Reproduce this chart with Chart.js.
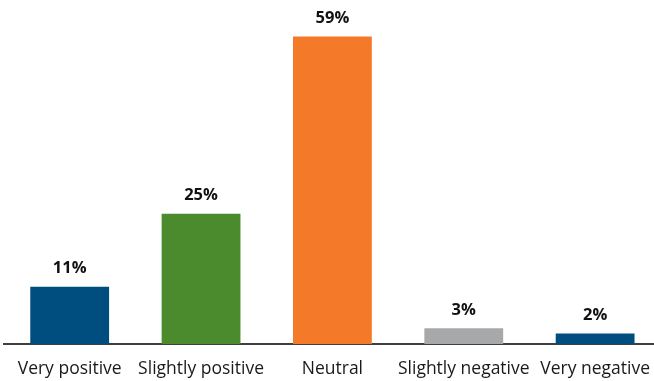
<!DOCTYPE html>
<html lang="en">
<head>
<meta charset="UTF-8">
<title>Sentiment</title>
<script src="https://cdn.jsdelivr.net/npm/chart.js"></script>
<style>
  html, body { margin: 0; padding: 0; background: #fff; overflow: hidden; }
  #wrap { width: 665px; height: 381px; position: relative; }
</style>
</head>
<body>
<div id="wrap"><canvas id="chart"></canvas></div>
<script>
// Share of responses per sentiment bucket (%)
var categories = ['Very positive', 'Slightly positive', 'Neutral', 'Slightly negative', 'Very negative'];
var values = [11, 25, 59, 3, 2];
var barColors = ['#004e7f', '#4b8b2d', '#f47a2a', '#a7a8aa', '#004e7f'];

// writes the percentage above each bar
var valueLabels = {
    id: 'valueLabels',
    afterDatasetsDraw: function (chart) {
        var ctx = chart.ctx;
        var meta = chart.getDatasetMeta(0);
        ctx.save();
        ctx.font = 'bold 16.5px "Open Sans"';
        ctx.fillStyle = '#111';
        ctx.textAlign = 'center';
        ctx.textBaseline = 'bottom';
        meta.data.forEach(function (bar, i) {
            ctx.fillText(values[i] + '%', bar.x, bar.y - 10);
        });
        ctx.restore();
    }
};

new Chart(document.getElementById('chart'), {
    type: 'bar',
    data: {
        labels: categories,
        datasets: [{
            data: values,
            backgroundColor: barColors,
            borderWidth: 0,
            barPercentage: 0.6,
            categoryPercentage: 1
        }]
    },
    options: {
        responsive: true,
        maintainAspectRatio: false,
        animation: false,
        layout: { padding: { left: 4, right: 0, top: 0, bottom: 0 } },
        plugins: {
            legend: { display: false },
            tooltip: { enabled: false }
        },
        scales: {
            x: {
                grid: { display: false, drawTicks: false },
                border: { display: true, color: '#3f3f3f', width: 2 },
                ticks: {
                    color: '#1a1a1a',
                    font: { family: '"Open Sans"', size: 17.5, lineHeight: 1.2 },
                    padding: 15,
                    autoSkip: false,
                    maxRotation: 0,
                    minRotation: 0
                },
                afterFit: function (axis) { axis.height = 37; }
            },
            y: {
                display: false,
                min: 0,
                max: 66
            }
        }
    },
    plugins: [valueLabels]
});
</script>
</body>
</html>
